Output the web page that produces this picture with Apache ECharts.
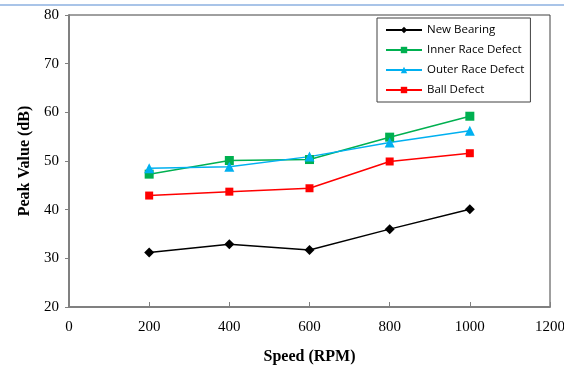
<!DOCTYPE html>
<html><head><meta charset="utf-8">
<script src="https://cdn.jsdelivr.net/npm/echarts@6/dist/echarts.min.js"></script>
<style>html,body{margin:0;padding:0;background:#fff}#c{width:564px;height:369px}</style>
</head><body><div id="c"></div>
<script>
const speeds = [200, 400, 600, 800, 1000];
const newBearing = [31.2, 32.9, 31.7, 36.0, 40.1];
const innerRace = [47.3, 50.1, 50.3, 54.9, 59.2];
const outerRace = [48.5, 48.8, 50.9, 53.8, 56.2];
const ballDefect = [42.9, 43.7, 44.4, 49.9, 51.6];
const seriesNames = ['New Bearing', 'Inner Race Defect', 'Outer Race Defect', 'Ball Defect'];

const pair = arr => speeds.map((s, i) => [s, arr[i]]);
const chart = echarts.init(document.getElementById('c'), null, {renderer: 'canvas'});
const mk = (name, data, color, symbol, size) => ({
  name, type: 'line', data: pair(data), symbol, symbolSize: size,
  itemStyle: {color}, lineStyle: {color, width: 1.5}, animation: false
});
chart.setOption({
  animation: false,
  graphic: [{type: 'line', shape: {x1: 0, y1: 5, x2: 564, y2: 5}, style: {stroke: '#a9c4e8', lineWidth: 2}}],
  grid: {left: 69, right: 14, top: 15, bottom: 62, show: true, borderColor: '#404040', borderWidth: 1,
         containLabel: false, outerBoundsMode: 'none'},
  legend: {
    left: 377, top: 18, orient: 'vertical', itemGap: 8, itemWidth: 36, itemHeight: 8,
    padding: [6, 6, 6, 8], borderColor: '#404040', borderWidth: 1, backgroundColor: '#fff',
    textStyle: {fontFamily: 'Open Sans', fontSize: 11.5, color: '#000'},
    data: seriesNames
  },
  xAxis: {
    type: 'value', min: 0, max: 1200, interval: 200,
    name: 'Speed (RPM)', nameLocation: 'middle', nameGap: 42,
    nameTextStyle: {fontFamily: 'Liberation Serif', fontWeight: 'bold', fontSize: 16, color: '#000'},
    axisLine: {lineStyle: {color: '#808080', width: 2}},
    axisTick: {show: true, inside: true, length: 5, lineStyle: {color: '#808080'}},
    axisLabel: {fontFamily: 'Liberation Serif', fontSize: 15, color: '#000', margin: 13, formatter: v => String(v)},
    splitLine: {show: false}
  },
  yAxis: {
    type: 'value', min: 20, max: 80, interval: 10,
    name: 'Peak Value (dB)', nameLocation: 'middle', nameGap: 35,
    nameTextStyle: {fontFamily: 'Liberation Serif', fontWeight: 'bold', fontSize: 16, color: '#000'},
    axisLine: {show: true, lineStyle: {color: '#808080', width: 2}},
    axisTick: {show: true, length: 4, lineStyle: {color: '#808080'}},
    axisLabel: {fontFamily: 'Liberation Serif', fontSize: 15, color: '#000', margin: 10},
    splitLine: {show: false}
  },
  series: [
    mk(seriesNames[0], newBearing, '#000000', 'diamond', 10),
    mk(seriesNames[1], innerRace, '#00b050', 'rect', 9),
    mk(seriesNames[2], outerRace, '#00b0f0', 'triangle', 10),
    mk(seriesNames[3], ballDefect, '#ff0000', 'rect', 8)
  ]
});
</script></body></html>
